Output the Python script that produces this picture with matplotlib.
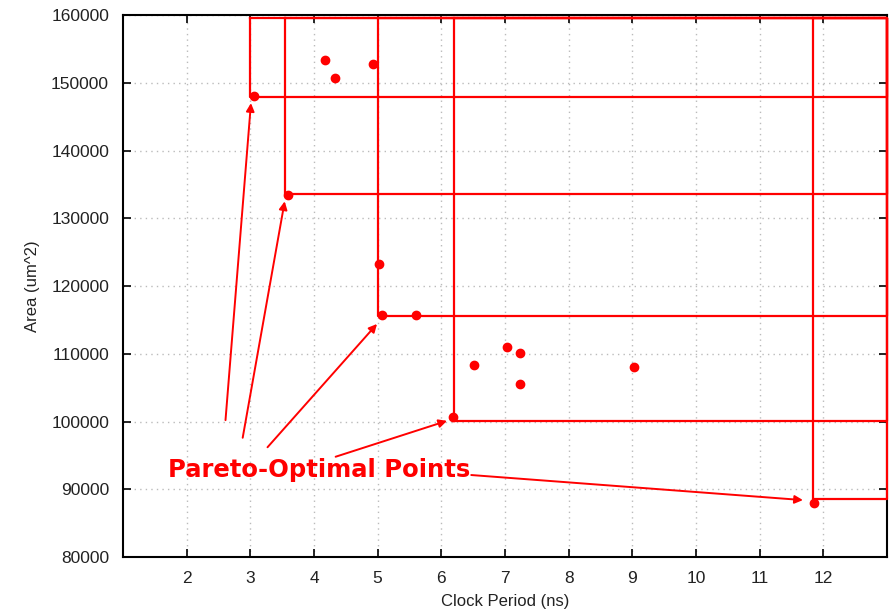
import matplotlib.pyplot as plt

# all synthesized designs: clock period (ns) vs area (um^2)
period = [3.05, 3.59, 4.18, 4.33, 4.92, 5.02, 5.07, 5.60, 6.51, 7.03, 7.24, 7.24, 6.18, 9.03, 11.86]
area = [148000, 133500, 153300, 150700, 152800, 123300, 115700, 115700,
        108300, 111000, 110100, 105500, 100700, 108000, 88000]

# pareto-optimal subset
pareto_period = [3.0, 3.55, 5.0, 6.2, 11.84]
pareto_area = [147900, 133600, 115600, 100100, 88500]

# arrow tails (text side) and heads (point side)
arrow_from = [(2.61, 100200), (2.88, 97600), (3.27, 96200), (4.34, 94800), (6.47, 92100)]
arrow_to = [(3.01, 147000), (3.54, 132500), (4.99, 114400), (6.09, 100100), (11.68, 88400)]

x_max, y_max = 13.0, 159500
red = "#ff0000"

plt.rcParams['font.family'] = ['Liberation Sans', 'DejaVu Sans']
fig = plt.figure(figsize=(8.9, 6.15), dpi=100)
ax = fig.add_axes([0.1382, 0.0943, 0.8584, 0.8813])

ax.set_xlim(1, 13)
ax.set_ylim(80000, 160000)
ax.set_xticks(range(2, 13))
ax.set_yticks(range(80000, 160001, 10000))
ax.tick_params(direction='in', top=True, right=True, length=6, width=1.2,
               labelsize=12.5, labelcolor='#222222', pad=10)
ax.grid(True, color='#bbbbbb', linestyle=(0, (1, 3)), linewidth=1)
for s in ax.spines.values():
    s.set_linewidth(1.5)

# dominance boxes for each pareto point
for px, py in zip(pareto_period, pareto_area):
    ax.plot([px, px, x_max, x_max, px], [y_max, py, py, y_max, y_max],
            color=red, lw=1.6, clip_on=False, zorder=3)

ax.scatter(period, area, s=36, color=red, zorder=4, clip_on=False)

for (x0, y0), (x1, y1) in zip(arrow_from, arrow_to):
    ax.annotate("", xy=(x1, y1), xytext=(x0, y0),
                arrowprops=dict(arrowstyle='-|>', color=red, lw=1.4, mutation_scale=12,
                                shrinkA=0, shrinkB=0), zorder=5)

ax.text(4.08, 92800, "Pareto-Optimal Points", color=red, fontsize=17.5, fontweight='bold',
        family=['DejaVu Sans'], ha='center', va='center', zorder=6)

ax.set_xlabel("Clock Period (ns)", fontsize=12, color='#222222', labelpad=6)
ax.set_ylabel("Area (um^2)", fontsize=12, color='#222222', labelpad=8)

fig.savefig("out.png", dpi=100)
